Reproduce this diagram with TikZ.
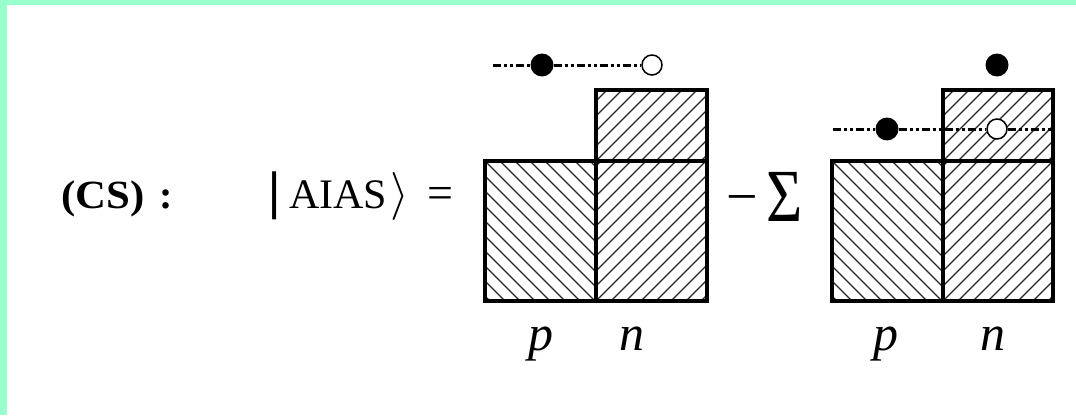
\documentclass[tikz,border=0pt]{standalone}
\usepackage{fix-cm}
\usepackage{amsmath}
\usepackage{fontspec}
\setmainfont{Liberation Serif}
\newfontfamily\djv{DejaVu Sans}
\definecolor{bordergreen}{HTML}{99FFCC}
\tikzset{
  boxline/.style={line width=3.4pt, line join=miter},
  hatchline/.style={line width=1.2pt, black!85},
  ddline/.style={line width=3pt, dash pattern=on 8pt off 3pt on 3pt off 3pt on 3pt off 3pt},
  fdot/.style={circle, fill=black, inner sep=0pt, minimum size=23pt},
  odot/.style={circle, draw=black, fill=white, line width=1.5pt, inner sep=0pt, minimum size=20pt},
  lbl/.style={anchor=base, inner sep=0pt, font=\itshape\fontsize{50}{50}\selectfont},
}
\newcommand\hatchNW[4]{%
  \begin{scope}\clip (#1,#2) rectangle (#3,#4);
  \foreach \k in {-30,...,30} \draw[hatchline] ({#1+\k*15},#2) -- ++(300,300);
  \end{scope}}
\newcommand\hatchNE[4]{%
  \begin{scope}\clip (#1,#2) rectangle (#3,#4);
  \foreach \k in {-30,...,30} \draw[hatchline] ({#1+\k*15},#4) -- ++(300,-300);
  \end{scope}}
\begin{document}
\begin{tikzpicture}[x=1pt,y=-1pt]
\useasboundingbox (0,0) rectangle (1076,415);
\fill[bordergreen] (0,0) rectangle (1076,5);
\fill[bordergreen] (0,0) rectangle (7,415);

% text
\node[anchor=base west, inner sep=0pt, font=\bfseries\fontsize{40}{40}\selectfont, xscale=1.07] (cs) at (61,208) {(CS)};
\node[anchor=base, inner sep=0pt, font=\bfseries\fontsize{40}{40}\selectfont] (colon) at (166,208) {:};
\node[inner sep=0pt, font=\djv\fontsize{48}{48}\selectfont] (bar) at (275,196) {|};
\node[anchor=base west, inner sep=0pt, font=\fontsize{42}{42}\selectfont] (aias) at (289,208) {AIAS};
\node[inner sep=0pt, font=\fontsize{48}{48}\selectfont] (ket) at (400,196) {$\rangle$};
\node[inner sep=0pt, font=\fontsize{46}{46}\selectfont] (eq) at (440,198) {=};
\node[inner sep=0pt, font=\fontsize{56}{56}\selectfont] (minus) at (742,206) {−};
\node[inner sep=0pt, font=\fontsize{75}{75}\selectfont, xscale=0.83] (sum) at (785,197) {Σ};

% left diagram
\hatchNW{485}{161}{596}{301}
\hatchNE{596}{161}{707}{301}
\hatchNE{596}{90}{707}{161}
\draw[boxline] (485,161) rectangle (596,301);
\draw[boxline] (596,161) rectangle (707,301);
\draw[boxline] (596,90) rectangle (707,161);
\coordinate (l0) at (493,65);
\node[fdot] (ldot) at (542,65) {};
\node[odot] (lopen) at (652,65) {};
\draw[ddline] (l0) -- (ldot) -- (lopen);

% right diagram
\hatchNW{832}{161}{943}{301}
\hatchNE{943}{161}{1053}{301}
\hatchNE{943}{90}{1053}{161}
\draw[boxline] (832,161) rectangle (943,301);
\draw[boxline] (943,161) rectangle (1053,301);
\draw[boxline] (943,90) rectangle (1053,161);
\coordinate (r0) at (833,129);
\coordinate (r1) at (1053,129);
\node[fdot] (rdot) at (887,129) {};
\node[odot] (ropen) at (997,129) {};
\node[fdot] (rtop) at (997,65) {};
\draw[ddline] (r0) -- (rdot) -- (ropen) -- (r1);

% labels
\node[lbl] (lp) at (541,350) {p};
\node[lbl] (ln) at (632,350) {n};
\node[lbl] (rp) at (886,350) {p};
\node[lbl] (rn) at (993,350) {n};
\end{tikzpicture}
\end{document}
